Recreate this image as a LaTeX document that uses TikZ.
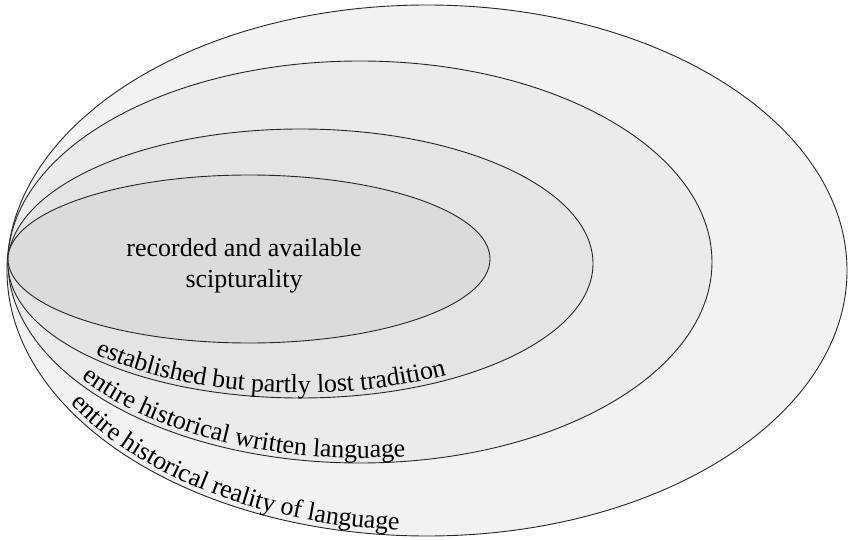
\documentclass[tikz,border=0pt]{standalone}
\usepackage{fontspec}
\setmainfont{Liberation Serif}
\usepackage{tikz}
\usetikzlibrary{decorations.text}

\definecolor{ringA}{HTML}{F2F2F2}
\definecolor{ringB}{HTML}{EBEBEB}
\definecolor{ringC}{HTML}{E4E4E4}
\definecolor{ringD}{HTML}{DBDBDB}
\newcommand{\ringfont}{\fontsize{26}{31}\selectfont}

\tikzset{
  ring/.style={draw=black!85, line width=0.9pt},
  ringlabel/.style={decorate, decoration={text along path, raise=5pt, text align=left}}
}

\begin{document}
\begin{tikzpicture}[x=1pt,y=1pt]
% Canvas
\useasboundingbox[fill=white] (0,0) rectangle (848,539);

% Nested ellipses, all touching at the left
\draw[ring, fill=ringA] (427,268.5) ellipse [x radius=420, y radius=265.5];
\draw[ring, fill=ringB] (360,277) ellipse [x radius=352, y radius=201];
\draw[ring, fill=ringC] (300.5,275.5) ellipse [x radius=292.5, y radius=134.5];
\draw[ring, fill=ringD] (249,280) ellipse [x radius=241, y radius=84];

% Core label
\node[align=center, font=\ringfont] (core) at (244,273) {recorded and available\\scipturality};

% Ring labels along the lower edges
\path[ringlabel, decoration={text={|\ringfont|established but partly lost tradition}}]
    ([shift={(300.5,275.5)}]225:292.5 and 134.5) arc[start angle=225, end angle=340, x radius=292.5, y radius=134.5];
\path[ringlabel, decoration={text={|\ringfont|entire historical written language}}]
    ([shift={(360,277)}]217:352 and 201) arc[start angle=217, end angle=340, x radius=352, y radius=201];
\path[ringlabel, decoration={text={|\ringfont|entire historical reality of language}}]
    ([shift={(427,268.5)}]211:420 and 265.5) arc[start angle=211, end angle=340, x radius=420, y radius=265.5];

\end{tikzpicture}
\end{document}
